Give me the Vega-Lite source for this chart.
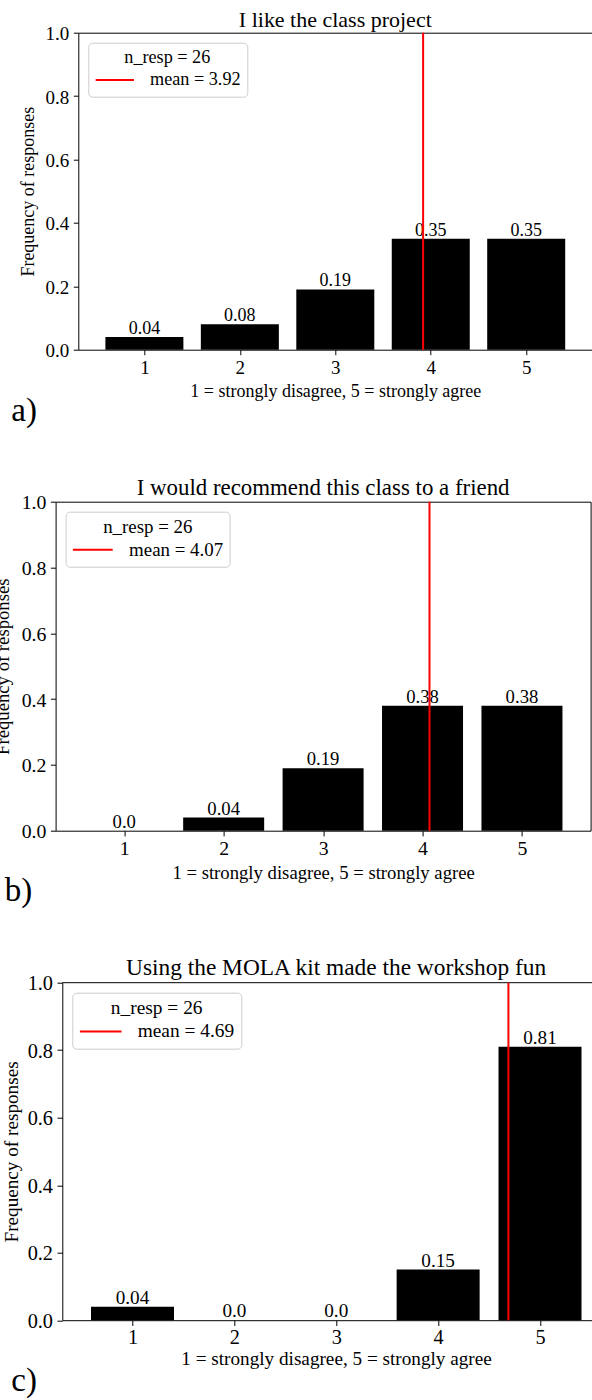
{
  "$schema": "https://vega.github.io/schema/vega-lite/v6.json",
  "padding": {"left": -7.7, "top": 8.7, "right": 0, "bottom": 0},
  "spacing": 47,
  "config": {
    "font": "Liberation Serif",
    "view": {"stroke": "black", "strokeWidth": 1},
    "axis": {
      "grid": false,
      "labelFont": "Liberation Serif",
      "titleFont": "Liberation Serif",
      "titleFontWeight": "normal",
      "labelColor": "black",
      "titleColor": "black",
      "tickColor": "black",
      "domainColor": "black",
      "tickWidth": 1
    },
    "title": {"font": "Liberation Serif", "fontWeight": "normal", "color": "black", "anchor": "middle", "frame": "group"},
    "legend": {
      "labelFont": "Liberation Serif",
      "titleFont": "Liberation Serif",
      "titleFontWeight": "normal",
      "labelColor": "black",
      "titleColor": "black",
      "titleAnchor": "middle",
      "fillColor": "#ffffff",
      "strokeColor": "#cccccc",
      "cornerRadius": 4,
      "symbolType": "stroke",
      "symbolStrokeWidth": 2,
      "clipHeight": 20,
      "titlePadding": 3
    }
  },
  "datasets": {
    "a": [
      {"score": 1, "freq": 0.04, "label": "0.04"},
      {"score": 2, "freq": 0.08, "label": "0.08"},
      {"score": 3, "freq": 0.19, "label": "0.19"},
      {"score": 4, "freq": 0.35, "label": "0.35"},
      {"score": 5, "freq": 0.35, "label": "0.35"}
    ],
    "a_mean": [{"mean": 3.92, "stat": "mean = 3.92"}],
    "b": [
      {"score": 1, "freq": 0.0, "label": "0.0"},
      {"score": 2, "freq": 0.04, "label": "0.04"},
      {"score": 3, "freq": 0.19, "label": "0.19"},
      {"score": 4, "freq": 0.38, "label": "0.38"},
      {"score": 5, "freq": 0.38, "label": "0.38"}
    ],
    "b_mean": [{"mean": 4.07, "stat": "mean = 4.07"}],
    "c": [
      {"score": 1, "freq": 0.04, "label": "0.04"},
      {"score": 2, "freq": 0.0, "label": "0.0"},
      {"score": 3, "freq": 0.0, "label": "0.0"},
      {"score": 4, "freq": 0.15, "label": "0.15"},
      {"score": 5, "freq": 0.81, "label": "0.81"}
    ],
    "c_mean": [{"mean": 4.69, "stat": "mean = 4.69"}]
  },
  "resolve": {"scale": {"color": "independent"}, "legend": {"color": "independent"}},
  "vconcat": [
    {
      "title": {"text": "a)", "orient": "bottom", "anchor": "start", "frame": "bounds", "baseline": "alphabetic", "fontSize": 33, "offset": 19.7, "dx": 11},
      "spacing": 0,
      "resolve": {"scale": {"color": "independent"}, "legend": {"color": "independent"}},
      "hconcat": [
        {"width": 18, "height": 1, "view": {"stroke": null}, "data": {"values": []}, "mark": "rect", "encoding": {}},
        {
          "width": 514,
          "height": 317,
          "title": {"text": "I like the class project", "fontSize": 22, "offset": -7.7},
          "layer": [
            {
              "data": {"name": "a"},
              "mark": {"type": "bar", "orient": "vertical", "size": 78, "color": "black"},
              "encoding": {
                "x": {
                  "field": "score", "type": "quantitative",
                  "scale": {"domain": [0.36, 5.64], "nice": false, "zero": false},
                  "title": "1 = strongly disagree, 5 = strongly agree",
                  "axis": {"values": [1, 2, 3, 4, 5], "format": "d", "labelFontSize": 19, "titleFontSize": 18, "tickSize": 5, "labelPadding": 4, "titlePadding": 5, "domain": false}
                },
                "y": {
                  "field": "freq", "type": "quantitative", "stack": null,
                  "scale": {"domain": [0, 1], "nice": false},
                  "title": "Frequency of responses",
                  "axis": {"values": [0, 0.2, 0.4, 0.6, 0.8, 1], "format": ".1f", "labelFontSize": 19, "titleFontSize": 18, "tickSize": 5, "labelPadding": 4.5, "labelOffset": 1, "titleX": -41.3, "domain": false}
                }
              }
            },
            {
              "data": {"name": "a"},
              "mark": {"type": "text", "baseline": "alphabetic", "dy": -3, "fontSize": 18, "color": "black"},
              "encoding": {
                "x": {"field": "score", "type": "quantitative"},
                "y": {"field": "freq", "type": "quantitative"},
                "text": {"field": "label"}
              }
            },
            {
              "data": {"name": "a_mean"},
              "mark": {"type": "rule", "strokeWidth": 2},
              "encoding": {
                "x": {"field": "mean", "type": "quantitative"},
                "color": {
                  "field": "stat", "type": "nominal",
                  "scale": {"range": ["#ff0000"]},
                  "legend": {"title": "n_resp = 26", "orient": "top-left", "offset": 9.5, "padding": 6, "labelFontSize": 18.2, "titleFontSize": 18.2, "symbolSize": 1467, "labelOffset": 14.7}
                }
              }
            }
          ]
        }
      ]
    },
    {
      "title": {"text": "b)", "orient": "bottom", "anchor": "start", "frame": "bounds", "baseline": "alphabetic", "fontSize": 33, "offset": 19, "dx": 11.7},
      "spacing": -8.7,
      "resolve": {"scale": {"color": "independent"}, "legend": {"color": "independent"}},
      "hconcat": [
        {"width": 1, "height": 1, "view": {"stroke": null}, "data": {"values": []}, "mark": "rect", "encoding": {}},
        {
          "width": 535,
          "height": 329,
          "title": {"text": "I would recommend this class to a friend", "fontSize": 22.9, "offset": -7.3},
          "layer": [
            {
              "data": {"name": "b"},
              "mark": {"type": "bar", "orient": "vertical", "size": 81, "color": "black"},
              "encoding": {
                "x": {
                  "field": "score", "type": "quantitative",
                  "scale": {"domain": [0.36, 5.64], "nice": false, "zero": false},
                  "title": "1 = strongly disagree, 5 = strongly agree",
                  "axis": {"values": [1, 2, 3, 4, 5], "format": "d", "labelFontSize": 19.8, "titleFontSize": 18.7, "tickSize": 5.2, "labelPadding": 2.5, "titlePadding": 5, "domain": false}
                },
                "y": {
                  "field": "freq", "type": "quantitative", "stack": null,
                  "scale": {"domain": [0, 1], "nice": false},
                  "title": "Frequency of responses",
                  "axis": {"values": [0, 0.2, 0.4, 0.6, 0.8, 1], "format": ".1f", "labelFontSize": 19.8, "titleFontSize": 18.7, "tickSize": 5.2, "labelPadding": 4.5, "labelOffset": 1, "titleX": -43, "domain": false}
                }
              }
            },
            {
              "data": {"name": "b"},
              "mark": {"type": "text", "baseline": "alphabetic", "dy": -3, "fontSize": 18.7, "color": "black"},
              "encoding": {
                "x": {"field": "score", "type": "quantitative"},
                "y": {"field": "freq", "type": "quantitative"},
                "text": {"field": "label"}
              }
            },
            {
              "data": {"name": "b_mean"},
              "mark": {"type": "rule", "strokeWidth": 2},
              "encoding": {
                "x": {"field": "mean", "type": "quantitative"},
                "color": {
                  "field": "stat", "type": "nominal",
                  "scale": {"range": ["#ff0000"]},
                  "legend": {"title": "n_resp = 26", "orient": "top-left", "offset": 9.5, "padding": 6.2, "labelFontSize": 18.9, "titleFontSize": 18.9, "symbolSize": 1584, "labelOffset": 15.3}
                }
              }
            }
          ]
        }
      ]
    },
    {
      "title": {"text": "c)", "orient": "bottom", "anchor": "start", "frame": "bounds", "baseline": "alphabetic", "fontSize": 33, "offset": 21.8, "dx": 11},
      "spacing": 0,
      "resolve": {"scale": {"color": "independent"}, "legend": {"color": "independent"}},
      "hconcat": [
        {"width": 1, "height": 1, "view": {"stroke": null}, "data": {"values": []}, "mark": "rect", "encoding": {}},
        {
          "width": 530.5,
          "height": 337.5,
          "view": {"stroke": null},
          "title": {"text": "Using the MOLA kit made the workshop fun", "fontSize": 23.4, "offset": -7, "dx": 8.5},
          "layer": [
            {
              "data": {"name": "c"},
              "mark": {"type": "bar", "orient": "vertical", "size": 83, "color": "black"},
              "encoding": {
                "x": {
                  "field": "score", "type": "quantitative",
                  "scale": {"domain": [0.36, 5.469], "nice": false, "zero": false},
                  "title": "1 = strongly disagree, 5 = strongly agree",
                  "axis": {"values": [1, 2, 3, 4, 5], "format": "d", "labelFontSize": 20.3, "titleFontSize": 19.2, "tickSize": 5.3, "labelPadding": 1.8, "titlePadding": 2, "domain": true, "titleX": 273.7}
                },
                "y": {
                  "field": "freq", "type": "quantitative", "stack": null,
                  "scale": {"domain": [0, 1], "nice": false},
                  "title": "Frequency of responses",
                  "axis": {"values": [0, 0.2, 0.4, 0.6, 0.8, 1], "format": ".1f", "labelFontSize": 20.3, "titleFontSize": 19.2, "tickSize": 5.3, "labelPadding": 4.5, "labelOffset": 1, "titleX": -41.3, "domain": true}
                }
              }
            },
            {
              "data": {"name": "c"},
              "mark": {"type": "text", "baseline": "alphabetic", "dy": -3, "fontSize": 19.2, "color": "black"},
              "encoding": {
                "x": {"field": "score", "type": "quantitative"},
                "y": {"field": "freq", "type": "quantitative"},
                "text": {"field": "label"}
              }
            },
            {
              "data": {"values": [{}]},
              "mark": {"type": "rule", "color": "black", "strokeWidth": 1},
              "encoding": {"y": {"datum": 1}}
            },
            {
              "data": {"name": "c_mean"},
              "mark": {"type": "rule", "strokeWidth": 2},
              "encoding": {
                "x": {"field": "mean", "type": "quantitative"},
                "color": {
                  "field": "stat", "type": "nominal",
                  "scale": {"range": ["#ff0000"]},
                  "legend": {"title": "n_resp = 26", "orient": "top-left", "offset": 9.5, "padding": 6.4, "labelFontSize": 19.4, "titleFontSize": 19.4, "symbolSize": 1730, "labelOffset": 15}
                }
              }
            }
          ]
        }
      ]
    }
  ]
}
